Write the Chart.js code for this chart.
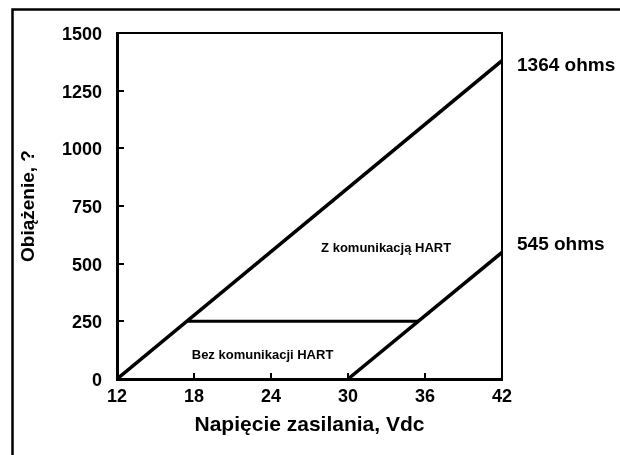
<!DOCTYPE html>
<html>
<head>
<meta charset="utf-8">
<script src="https://cdn.jsdelivr.net/npm/chart.js@4.4.1/dist/chart.umd.min.js"></script>
<style>
html,body{margin:0;padding:0;background:#fff;}
#wrap{width:620px;height:455px;position:relative;}
canvas{display:block;}
</style>
</head>
<body>
<div id="wrap"><canvas id="c" width="620" height="455"></canvas></div>
<script>
// ---- data ----
const xTicks = [12, 18, 24, 30, 36, 42];
const yTicks = [0, 250, 500, 750, 1000, 1250, 1500];
const withHartX = [12, 42];
const withHartY = [0, 1380];
const noHartX = [30, 42];
const noHartY = [0, 549];
const thresholdX = [17.5, 35.5];
const thresholdY = [250, 250];
const endLabels = ['1364 ohms', '545 ohms'];
const regionLabels = ['Z komunikacją HART', 'Bez komunikacji HART'];
const xTitle = 'Napięcie zasilania, Vdc';
const yTitle = 'Obiążenie, ?';

const FONT = '"Liberation Sans", Arial, Helvetica, sans-serif';
Chart.defaults.color = '#000';
Chart.defaults.font.family = FONT;

const pts = (xs, ys) => xs.map((x, i) => ({x: x, y: ys[i]}));

const decor = {
  id: 'decor',
  beforeDraw(chart) {
    const ctx = chart.ctx;
    ctx.save();
    ctx.fillStyle = '#fff';
    ctx.fillRect(0, 0, chart.width, chart.height);
    ctx.strokeStyle = '#000';
    ctx.lineWidth = 2.5;
    ctx.beginPath();
    ctx.moveTo(12.5, chart.height + 5);
    ctx.lineTo(12.5, 9.5);
    ctx.lineTo(chart.width + 5, 9.5);
    ctx.stroke();
    ctx.restore();
  },
  afterDatasetsDraw(chart) {
    const ctx = chart.ctx;
    const a = chart.chartArea;
    const xs = chart.scales.x, ys = chart.scales.y;
    ctx.save();
    ctx.strokeStyle = '#000';
    // top and right frame of plot
    ctx.lineWidth = 2;
    ctx.beginPath();
    ctx.moveTo(a.left, a.top);
    ctx.lineTo(a.right, a.top);
    ctx.lineTo(a.right, a.bottom);
    ctx.stroke();
    // inward tick marks
    ctx.lineWidth = 2;
    ctx.beginPath();
    ys.ticks.forEach(t => {
      const p = Math.round(ys.getPixelForValue(t.value));
      ctx.moveTo(a.left, p);
      ctx.lineTo(a.left + 7, p);
    });
    xs.ticks.forEach(t => {
      const p = Math.round(xs.getPixelForValue(t.value));
      ctx.moveTo(p, a.bottom);
      ctx.lineTo(p, a.bottom - 6);
    });
    ctx.stroke();
    // end labels
    ctx.fillStyle = '#000';
    ctx.textBaseline = 'middle';
    ctx.textAlign = 'left';
    ctx.font = 'bold 19px ' + FONT;
    ctx.fillText(endLabels[0], a.right + 15, ys.getPixelForValue(1364) + 1);
    ctx.fillText(endLabels[1], a.right + 15, ys.getPixelForValue(580));
    // region labels
    ctx.textAlign = 'center';
    ctx.font = 'bold 13px ' + FONT;
    ctx.fillText(regionLabels[0], xs.getPixelForValue(32.97), ys.getPixelForValue(564));
    ctx.fillText(regionLabels[1], xs.getPixelForValue(23.34), ys.getPixelForValue(104));
    ctx.restore();
  }
};

new Chart(document.getElementById('c'), {
  type: 'scatter',
  data: {
    datasets: [
      {data: pts(withHartX, withHartY), showLine: true, borderColor: '#000', borderWidth: 3.5, pointRadius: 0},
      {data: pts(noHartX, noHartY), showLine: true, borderColor: '#000', borderWidth: 3.5, pointRadius: 0},
      {data: pts(thresholdX, thresholdY), showLine: true, borderColor: '#000', borderWidth: 3, pointRadius: 0}
    ]
  },
  options: {
    responsive: false,
    animation: false,
    devicePixelRatio: 1,
    layout: {padding: {left: 0, top: 33, right: 118, bottom: 0}},
    plugins: {legend: {display: false}, tooltip: {enabled: false}},
    scales: {
      x: {
        type: 'linear', min: 12, max: 42,
        afterBuildTicks: s => { s.ticks = xTicks.map(v => ({value: v})); },
        afterFit: s => { s.height = 76; },
        grid: {display: false, drawTicks: false},
        border: {display: true, color: '#000', width: 3},
        ticks: {padding: 7, color: '#000', font: {size: 18, weight: 'bold', lineHeight: 1.2}, maxRotation: 0, autoSkip: false,
                callback: v => String(v)},
        title: {display: true, text: xTitle, color: '#000', font: {size: 21, weight: 'bold', lineHeight: 1.2}, padding: {top: 0, bottom: 17}}
      },
      y: {
        type: 'linear', min: 0, max: 1500,
        afterBuildTicks: s => { s.ticks = yTicks.map(v => ({value: v})); },
        afterFit: s => { s.width = 117; },
        grid: {display: false, drawTicks: false},
        border: {display: true, color: '#000', width: 3},
        ticks: {padding: 15, labelOffset: 2, color: '#000', font: {size: 18, weight: 'bold', lineHeight: 1.2}, autoSkip: false,
                callback: v => String(v)},
        title: {display: true, text: yTitle, color: '#000', font: {size: 19, weight: 'bold', lineHeight: 1.2}, padding: {top: 17, bottom: 0}}
      }
    }
  },
  plugins: [decor]
});
</script>
</body>
</html>
